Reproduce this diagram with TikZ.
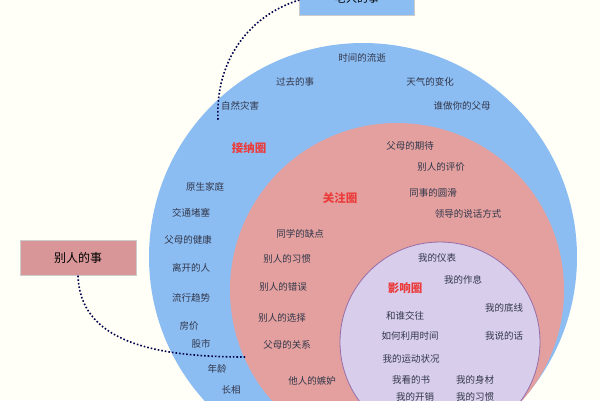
\documentclass[tikz,border=0pt]{standalone}
\usepackage{fontspec}
\setmainfont{Noto Sans CJK SC}
\definecolor{cblue}{RGB}{140,189,242}
\definecolor{cred}{RGB}{227,160,158}
\definecolor{cpur}{RGB}{216,205,235}
\definecolor{ctext}{RGB}{50,55,75}
\begin{document}
\begin{tikzpicture}[x=1pt,y=-1pt,
 t/.style={font=\fontsize{9.5}{10}\selectfont,text=ctext,inner sep=0},
 h/.style={font=\fontsize{11.5}{12}\selectfont\bfseries,text={rgb,255:red,235;green,60;blue,60},inner sep=0},
 dot/.style={line width=1.6pt,dotted,draw=black!70!blue}]
\fill[yellow!3!white] (0,0) rectangle (600,400);
\useasboundingbox (0,0) rectangle (600,400);
\fill[cblue] (363,257) circle (214);
\fill[cred] (397,290) circle (167);
\filldraw[fill=cpur,draw={rgb,255:red,150;green,110;blue,170},line width=0.8pt] (440,342) circle (100);
\node[fill=cblue,draw=black!20,minimum width=115,minimum height=30,inner sep=0,font=\fontsize{11}{12}\selectfont] (old) at (357,0) {\raisebox{4pt}{老人的事}};
\node[fill={rgb,255:red,217;green,150;blue,152},draw=black!20,minimum width=116,minimum height=35,inner sep=0,font=\fontsize{12}{13}\selectfont] (other) at (78,258) {别人的事};
\coordinate (e1) at (218,120);
\coordinate (e2) at (245,357);
\draw[dot] (old.west) .. controls (250,15) and (215,60) .. (e1);
\draw[dot] (other.south) .. controls (80,340) and (150,357) .. (e2);
\node[t] (a1) at (362,58) {时间的流逝};
\node[t] (a2) at (295,82) {过去的事};
\node[t] (a3) at (430,82) {天气的变化};
\node[t] (a4) at (240,106) {自然灾害};
\node[t] (a5) at (462,106) {谁做你的父母};
\node[h] (ha) at (249,148) {接纳圈};
\node[t] (a6) at (205,187) {原生家庭};
\node[t] (a7) at (191,213) {交通堵塞};
\node[t] (a8) at (188,240) {父母的健康};
\node[t] (a9) at (191,268) {离开的人};
\node[t] (a10) at (191,298) {流行趋势};
\node[t] (a11) at (189,326) {房价};
\node[t] (a12) at (201,344) {股市};
\node[t] (a13) at (217,369) {年龄};
\node[t] (a14) at (231,390) {长相};
\node[t] (b1) at (410,146) {父母的期待};
\node[t] (b2) at (441,167) {别人的评价};
\node[t] (b3) at (433,193) {同事的圆滑};
\node[t] (b4) at (468,214) {领导的说话方式};
\node[h] (hb) at (340,198) {关注圈};
\node[t] (b5) at (300,234) {同学的缺点};
\node[t] (b6) at (287,259) {别人的习惯};
\node[t] (b7) at (283,287) {别人的错误};
\node[t] (b8) at (282,318) {别人的选择};
\node[t] (b9) at (287,345) {父母的关系};
\node[t] (b10) at (312,381) {他人的嫉妒};
\node[t] (c1) at (437,258) {我的仪表};
\node[t] (c2) at (463,280) {我的作息};
\node[h] (hc) at (405,288) {影响圈};
\node[t] (c3) at (504,308) {我的底线};
\node[t] (c4) at (405,316) {和谁交往};
\node[t] (c5) at (410,336) {如何利用时间};
\node[t] (c6) at (504,336) {我说的话};
\node[t] (c7) at (411,359) {我的运动状况};
\node[t] (c8) at (411,380) {我看的书};
\node[t] (c9) at (475,380) {我的身材};
\node[t] (c10) at (415,397) {我的开销};
\node[t] (c11) at (475,397) {我的习惯};
\end{tikzpicture}
\end{document}
